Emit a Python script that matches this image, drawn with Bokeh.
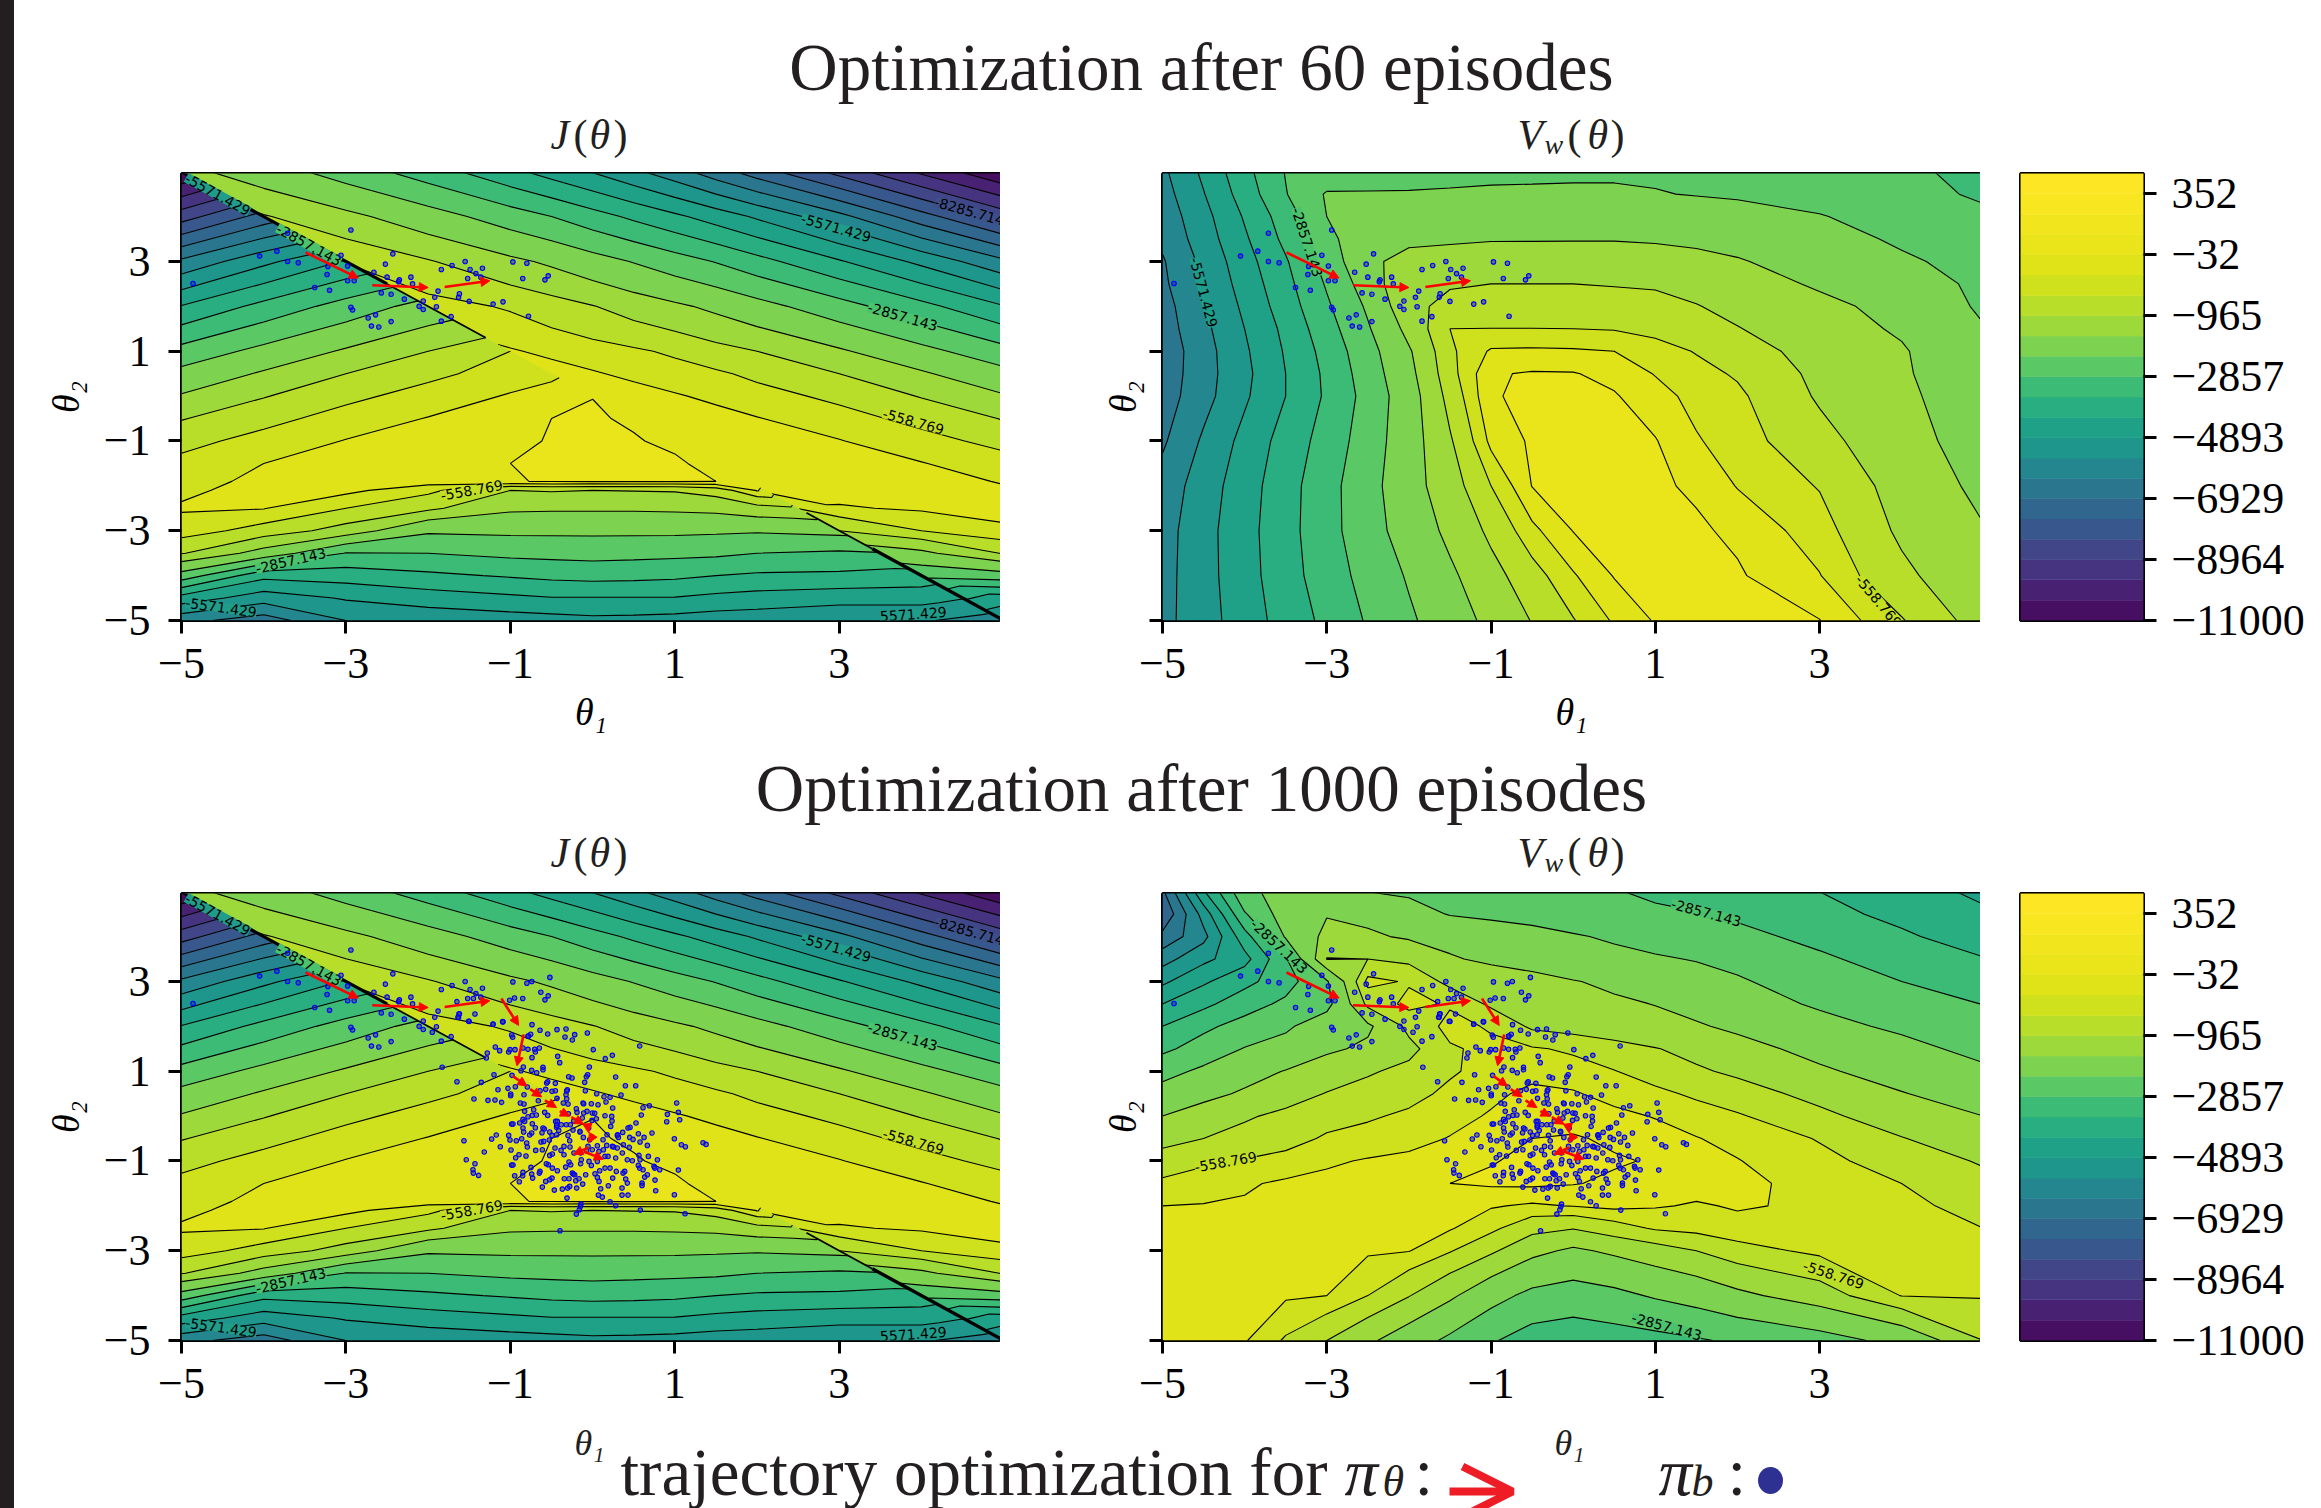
import numpy as np
from bokeh.embed import file_html
from bokeh.resources import INLINE
from bokeh.plotting import figure
from bokeh.layouts import column, row
from bokeh.models import (Range1d, Arrow, NormalHead, OpenHead, ColumnDataSource,
                          FixedTicker, GlobalInlineStyleSheet)
from bokeh.core.properties import value

# ---------- contour levels and colours ----------
LEVELS = [-11000 + k * 678.5714 for k in range(15)] + [-965, -558.769, -280, -32, 120, 240, 352, 500]
BAND_COLORS = ["#460f62", "#482173", "#463480", "#404688", "#38578c", "#31668e", "#2a768e", "#24868e",
               "#1f968b", "#1fa188", "#28ae80", "#3bbb75", "#5ac864", "#7dd250", "#9dd93b", "#b8de29",
               "#cfe11c", "#dfe318", "#eae51a", "#f1e51d", "#f8e621", "#fde725"]
CB_TICKS = {0: "\u221211000", 3: "\u22128964", 6: "\u22126929", 9: "\u22124893", 12: "\u22122857",
            15: "\u2212965", 18: "\u221232", 21: "352"}

# ---------- fields, in units of contour-line count ----------
J_X = [-5, -4, -3, -2, -1, -.5, 0, .5, 1, 1.5, 2, 3, 4, 5]
J_Y = [5, 4, 3, 2, 1, .5, 0, -.5, -1, -1.5, -1.9, -2.1, -2.5, -3, -3.5, -4, -4.5, -5]
J_TABLE = [
 [14.35,13.5,12.56,11.5,10.25,9.6,8.95,8.2,7.4,6.45,5.5,3.65,1.8,0.05],
 [3.55,15.1,14.3,13.45,12.5,12,11.4,10.8,10.2,9.55,8.85,7.3,5.4,3.55],
 [7.2,8.75,15.95,15.1,14.25,13.85,13.4,12.95,12.45,11.95,11.35,10.1,8.75,7.2],
 [10.05,11.3,12.4,16.5,15.9,15.5,15.05,14.6,14.2,13.8,13.35,12.4,11.3,10.05],
 [12.35,13.3,14.15,15,17.1,16.8,16.5,16.2,15.85,15.4,15,14.15,13.3,12.35],
 [13.3,14.15,15,15.8,16.5,17.4,17.1,16.8,16.5,16.2,15.8,15,14.15,13.3],
 [14.1,14.95,15.8,16.45,17.1,17.4,17.98,17.4,17.1,16.8,16.45,15.8,14.95,14.1],
 [14.95,15.75,16.45,17.05,17.6,18,18.2,17.85,17.6,17.35,17.05,16.45,15.75,14.95],
 [15.75,16.4,17.05,17.45,17.7,18.15,18.35,18.15,17.75,17.5,17.4,17.05,16.4,15.75],
 [16.3,17,17.3,17.5,18,18.4,18.5,18.5,18.3,17.6,17.6,17.4,17.05,16.45],
 [16.65,17.25,17.4,17.5,17.95,18.1,18.15,18.15,18.15,18,17.7,17.5,17.3,16.95],
 [16.85,17.3,17.3,16.3,15,15.1,15,15.05,15.1,15.5,17.1,17.4,17.35,17.1],
 [17.1,17.05,16,15.25,14.2,14.15,14.15,14.15,14.2,14.3,14.7,16.9,17.15,17.2],
 [16.6,15.65,14.65,13.15,13.2,13.2,13.2,13.2,13.2,13.15,13.1,15,16,16.9],
 [15.1,13.65,11.95,12,12.25,12.3,12.35,12.3,12.25,12.2,12,11.85,13.8,15.1],
 [12.6,10.3,10.45,10.8,11.1,11.25,11.35,11.3,11.2,11,10.85,10.8,12.3,12.6],
 [9.6,8.45,9.1,9.5,9.8,9.95,9.95,9.95,9.95,9.75,9.6,9.4,9.4,9.5],
 [7.3,6.5,8,8.3,8.5,8.6,8.75,8.7,8.6,8.45,8.4,8.1,8.1,8],
]
J_DIAG_UPPER = [14.35,15.1,15.95,16.5,17.1,17.4,17.98,17.85,17.75,17.6,17.6,15,12.3,8]
J_DIAG_LOWER = [0.05,5.4,10.1,13.4,16,16.8,17.98,17.85,17.75,17.6,17.3,13.3,10.6,7.5]
J_CLIFF = [(-5,5,-2.5,2.5,3.2), (-2.5,2.5,-1.3,1.3,1.7), (2.6,-2.6,3.4,-3.4,1.8), (3.4,-3.4,5,-5,3.4)]

V_X = [-5,-4.5,-4,-3.5,-3,-2.5,-2,-1.5,-1,-.5,0,.5,1,1.5,2,3,4,5]
V60_Y = [5,4.5,4,3.5,3,2.5,2,1.5,1,.5,0,-1,-2,-3,-4,-5]
V60_TABLE = [
 [7.8,9.2,10.7,12.05,12.3,12.4,12.5,12.6,12.7,12.75,12.8,12.85,12.85,12.8,12.7,12.5,12.2,11.7],
 [7.6,8.95,10.45,11.95,13.1,13.1,13.1,13.15,13.2,13.2,13.2,13.15,13.05,12.95,12.85,12.65,12.35,11.85],
 [7.4,8.67,10.1,11.5,13,13.25,13.3,13.4,13.45,13.5,13.55,13.6,13.6,13.55,13.45,13.05,12.6,12.2],
 [7.2,8.5,9.85,11.25,12.7,13.75,13.85,13.9,13.95,13.95,13.95,13.95,13.9,13.8,13.65,13.4,12.85,12.4],
 [6.9,8.25,9.6,10.9,12.4,13.85,14.3,14.4,14.5,14.55,14.6,14.6,14.5,14.35,14.1,13.55,13.15,12.65],
 [6.8,8.1,9.4,10.7,12.1,13.5,14.95,14.95,15,15,15,14.95,14.9,14.7,14.45,13.9,13.45,12.8],
 [6.6,7.9,9.2,10.5,11.85,13.15,14.85,15.2,15.35,15.45,15.5,15.45,15.35,15.05,14.75,14.25,13.75,12.85],
 [6.5,7.75,9,10.25,11.6,12.9,14.35,16,16.02,16.02,16,15.95,15.75,15.4,15.05,14.45,13.9,13.05],
 [6.35,7.6,8.85,10.1,11.35,12.65,13.9,15.85,17.15,17.2,17.15,17,16.5,15.95,15.45,14.7,14.1,13.25],
 [6.4,7.6,8.75,10,11.2,12.5,13.75,15.7,17.9,18.15,18.1,17.7,16.95,16.4,15.9,14.8,14.15,13.3],
 [6.5,7.65,8.85,10,11.15,12.35,13.6,15.4,17.95,18.2,18.25,18.15,17.4,16.7,16.25,14.9,14.25,13.4],
 [6.85,8.15,9.3,10.4,11.4,12.5,13.6,14.9,17.3,18.25,18.4,18.3,18.1,17.1,16.55,15.35,14.4,13.6],
 [7.4,8.5,9.55,10.6,11.65,12.65,13.65,14.6,16,18.05,18.3,18.35,18.25,17.85,16.95,15.95,14.65,13.8],
 [7.6,8.65,9.65,10.65,11.65,12.6,13.45,14.25,15.25,16.75,18.05,18.25,18.3,18.25,17.8,16.5,14.85,14.05],
 [7.65,8.65,9.6,10.6,11.5,12.35,13.1,13.85,14.7,15.65,16.9,18.1,18.3,18.35,18.2,17.05,15.25,14.3],
 [7.7,8.6,9.5,10.4,11.25,12.1,12.85,13.55,14.3,15.05,15.95,17.15,18.15,18.25,18.3,18.05,16.1,14.6],
]
V1000_Y = [5,4.5,4,3.5,3,2.5,2,1.5,1,.5,0,-.5,-1,-1.5,-2,-2.5,-3,-4,-5]
V1000_TABLE = [
 [5.8,9.9,12.8,13.3,13.25,13,12.85,12.7,12.55,12.4,12.25,12.05,11.85,11.65,11.4,11,10.4,9.8],
 [5.1,8.4,11.9,13.5,13.95,13.8,13.4,12.95,12.8,12.6,12.4,12.3,12.15,12.05,11.85,11.3,10.75,10.15],
 [6.3,7.7,10.6,13.1,14.3,14.15,13.9,13.75,13.55,13.4,13.1,12.85,12.65,12.45,12.25,11.75,11.15,10.5],
 [7.6,8.75,9.65,11.9,15.05,15.0,14.8,14.1,13.85,13.65,13.45,13.3,13.1,12.95,12.75,12.15,11.6,11.05],
 [8.8,9.85,10.7,11.6,12.9,16.4,15.9,14.75,14.55,14.35,14.05,13.85,13.6,13.35,13.1,12.55,12,11.6],
 [10,10.75,11.6,12.2,12.7,15.3,16.4,15.9,14.85,14.65,14.35,14.15,13.98,13.75,13.35,12.9,12.4,11.98],
 [11,11.8,12.35,12.85,13.55,13.85,15.3,16.4,15.9,14.85,14.65,14.45,14.3,14.1,13.85,13.25,12.85,12.4],
 [11.8,12.4,13.05,13.35,13.85,14.2,14.75,15.9,16.3,16.15,15.85,15.45,15.05,14.75,14.35,13.75,13.25,12.75],
 [12.65,13.2,13.65,14.05,14.55,14.9,15.3,15.9,16.4,16.7,16.55,16.05,15.6,15.15,14.85,14.15,13.65,13.15],
 [13.4,13.75,14.15,14.65,15.05,15.4,15.75,16.25,16.8,17.25,17.1,16.7,16.3,15.85,15.45,14.75,14.05,13.6],
 [14,14.5,14.9,15.25,15.6,15.9,16.2,16.7,17.1,17.4,17.5,17.25,16.95,16.55,16.15,15.25,14.55,14],
 [14.65,15,15.35,15.6,16.2,16.4,16.7,17.05,17.3,18,18.2,17.8,17.4,17.05,16.7,15.95,15.05,14.45],
 [15.6,15.85,16.1,16.5,16.85,17.1,17.25,17.5,17.95,18.3,18.4,18.2,17.9,17.45,17.05,16.3,15.65,14.9],
 [16.2,16.6,16.9,17.15,17.3,17.4,17.5,18,18.25,18.35,18.1,17.8,17.65,17.45,17.2,16.75,16,15.35],
 [17,17.05,17.1,17.2,17.3,17.35,17.4,17.7,17.1,16.85,17.05,17.3,17.1,16.9,17.1,16.85,16.3,15.7],
 [17.2,17.2,17.2,17.25,17.3,17.3,17.2,17.1,16.3,15.35,15.05,15.6,16.15,16.4,16.7,16.75,16.5,16],
 [17.3,17.3,17.3,17.3,17.25,17.15,17.05,16.1,15.2,14.3,13.85,14.2,14.6,15,15.65,16.3,16.4,16.25],
 [17.15,17.2,17.2,17.15,17,16,15.05,14.2,13.35,12.75,12.55,12.75,13.1,13.4,13.8,14.55,16.05,16.1],
 [17.5,17.4,17.1,15.9,15,14.2,13.5,12.8,12.1,11.55,11.4,11.55,11.7,11.9,12.15,12.6,13.3,15],
]

# ---------- behaviour-policy samples ----------
PB60 = [(-4.86,2.51),(-4.05,3.12),(-3.84,3.23),(-3.71,3.63),(-3.71,3.0),(-3.58,2.97),(-3.38,2.42),(-3.20,2.36),
 (-3.23,2.71),(-3.22,2.89),(-3.06,3.14),(-2.98,2.90),(-2.98,2.57),(-2.90,2.57),(-2.94,3.70),(-2.94,1.98),
 (-2.92,1.92),(-2.73,1.74),(-2.64,1.81),(-2.69,1.56),(-2.60,1.54),(-2.45,1.66),(-2.57,2.30),(-2.45,2.27),
 (-2.66,2.76),(-2.50,2.65),(-2.52,2.94),(-2.43,3.17),(-2.36,2.55),(-2.35,2.59),(-2.21,2.65),(-2.19,2.50),
 (-2.29,2.16),(-2.11,2.0),(-2.06,1.93),(-2.06,2.12),(-1.92,2.20),(-1.90,1.99),(-1.88,2.34),(-1.84,1.67),
 (-1.72,1.77),(-1.63,2.20),(-1.62,2.28),(-1.50,2.11),(-1.84,2.82),(-1.71,2.91),(-1.55,3.0),(-1.49,2.82),
 (-1.42,2.73),(-1.34,2.85),(-1.52,2.62),(-1.36,2.65),(-1.21,2.05),(-1.09,2.10),(-0.97,2.99),(-0.80,2.96),
 (-0.85,2.62),(-0.58,2.59),(-0.54,2.68),(-0.78,1.78)]
PB1000_EXTRA = [(-.74,3.0),(-.52,3.09),(-.63,2.76),(-.95,2.63),(-1.01,2.58),(-1.83,1.09),(-1.95,1.87),
 (-1.65,2.55),(-1.45,2.62)]
# digitised on a 3x crop of the reference: horizontal read / 246.6 - 1.727, 2.558 - vertical read / 134.55
PB1000_READ = [(25,38),(22,48),(73,38),(54,60),(127,69),(156,61),(244,70),(268,87),(319,85),(346,83),(291,98),(183,101),(186,108),(240,99),(232,104),(343,107),(372,100),(365,116),(410,95),(428,145),(567,134),(485,162),(464,172),(321,165),(327,184),(244,169),(134,137),(147,148),(178,145),(193,145),(174,152),(217,140),(232,144),(252,144),(254,152),(266,140),(110,155),(107,170),(416,197),(411,220),(407,226),(277,198),(277,205),(243,207),(258,214),(218,197),(211,208),(354,226),(364,230),(402,243),(495,227),(130,220),(184,222),(19,241),(92,243),
 (524,253),(555,253),(511,281),(291,241),(288,245),(314,246),(194,256),(172,261),(142,265),(230,257),(285,264),(304,270),(314,268),(350,265),(348,269),(404,268),(268,268),(180,278),(180,283),(220,280),(346,280),(438,277),(460,286),(478,288),(466,302),(319,291),(348,292),(263,298),(70,293),(112,297),(133,296),(153,303),(209,305),(220,308),(338,305),(352,308),(397,305),(399,307),(422,307),(442,310),(486,320),(577,319),(596,313),(678,305),(683,333),(650,339),(687,355),(648,361),(572,341),(556,365),(282,333),(291,342),(222,330),(249,325),(232,346),(245,342),(257,341),(217,354),(222,360),(207,365),(183,368),(187,368),(315,360),(320,360),(245,367),(353,337),(377,322),(379,333),(409,330),(399,335),(425,335),(432,336),(463,343),(483,345),(484,359),(437,352),(424,357),(395,350),(217,380),(219,392),(254,379),(277,380),(281,383),(318,372),(318,378),(332,370),(347,370),(359,370),(369,359),(367,386),(388,392),(414,380),(480,375),(538,378),(532,380),(516,393),(501,400),(503,408),(563,397),(604,395),(671,412),(692,430),(704,436),(757,424),(766,429),(40,418),(123,413),(137,401),(174,402),(178,416),(197,418),(213,412),(237,401),(243,395),(274,394),(297,392),(324,387),(318,400),(304,402),(296,416),(279,420),(271,422),(228,425),(230,437),(255,447),(149,436),(181,446),(101,452),(47,475),(73,487),(67,505),(68,515),(84,522),(183,491),(187,491),(205,460),(195,469),(226,464),(275,445),(297,462),(313,440),(331,447),(340,435),(358,437),(357,418),(352,402),(388,390),(398,408),(417,415),(412,435),(440,433),(457,415),(469,400),(489,437),(500,402),(518,430),(537,408),(547,414),(536,438),(568,422),(580,408),(590,432),(468,432),(485,435),(500,440),(458,445),(445,450),(425,445),(408,448),(390,455),(370,455),(340,460),(305,458),(293,490),(287,487),(305,500),(320,508),(345,497),(355,482),(360,490),(392,475),(390,487),(415,480),(422,492),(440,480),(463,465),(472,465),(495,470),(515,455),(530,475),(545,478),(565,462),(568,475),(593,465),(620,475),(563,492),(567,500),(577,505),(610,495),(612,500),(627,505),(683,506),(522,510),(517,515),(497,510),(478,500),(463,500),(447,508),(433,517),(440,528),(445,540),(405,520),(365,515),(368,518),(372,520),(355,532),(341,532),(385,532),(375,538),(396,548),(473,553),(486,530),(525,533),(530,545),(514,560),(574,545),(574,552),(582,527),(590,520),(613,536),(615,568),(671,580),(532,581),(514,581),(450,562),(443,581),(455,587),(378,560),(357,555),(351,560),(335,563),(311,566),(275,557),(285,540),(297,535),(304,530),(241,498),(268,510),(266,515),(243,518),(246,530),(217,513),(216,523),(192,523),(206,541),(349,590),(391,608),(389,615),(386,625),(377,638),(478,601),(495,613),(569,626),(703,637),(328,688)]

# ---------- trajectory arrows (start x, start y, end x, end y) ----------
TRAJ60 = [(-3.49,3.2,-2.85,2.63),(-2.68,2.47,-2.0,2.42),(-1.8,2.43,-1.25,2.57)]
TRAJ1000 = TRAJ60 + [(-1.11,2.62,-.9,2.02),(-.84,1.82,-.92,1.12),(-.97,.89,-.8,.67),(-.76,.6,-.62,.43),
 (-.58,.35,-.44,.19),(-.4,.11,-.28,0),(-.26,-.02,-.11,-.18),(-.06,-.22,-.05,-.37),(.01,-.41,-.05,-.59),
 (-.05,-.7,-.23,-.85),(-.11,-.79,.13,-.96)]

# ---------- contour labels (x, y, text, screen angle, background) ----------
G_LOW, G_MID, G_TEAL, G_DARK = "#c4e022", "#4bc26c", "#1f9c8a", "#3d4e8a"
J_LABELS = [(2.96,3.75,"-5571.429",-15.7,G_TEAL),(3.77,1.77,"-2857.143",-15.7,G_MID),(3.9,-.57,"-558.769",-15.7,G_LOW),
 (4.58,4.12,"-8285.714",-15.7,G_DARK),(-1.47,-2.1,"-558.769",10,G_LOW),(-3.67,-3.67,"-2857.143",13,G_MID),
 (-4.52,-4.71,"-5571.429",-8,G_TEAL),(3.9,-4.86,"5571.429",4,G_TEAL),(-3.45,3.37,"-2857.143",-28.6,G_MID),
 (-4.56,4.49,"-5571.429",-28.6,G_TEAL)]
V60_LABELS = [(-3.24,3.43,"-2857.143",-72,G_MID),(-4.5,2.31,"-5571.429",-75,G_TEAL),(3.72,-4.57,"-558.769",-50,G_LOW)]
V1000_LABELS = [(-3.58,3.78,"-2857.143",-43,G_MID),(-4.23,-1.02,"-558.769",10,G_LOW),(1.62,4.53,"-2857.143",-15,G_MID),
 (3.17,-3.54,"-558.769",-18,G_LOW),(1.14,-4.69,"-2857.143",-15,G_MID)]

# ---------- texts ----------
SUPTITLE_60 = "Optimization after 60 episodes"
SUPTITLE_1000 = "Optimization after 1000 episodes"
LEGEND_TEXT = "trajectory optimization for"
TICKS = [-5, -3, -1, 1, 3]
TICK_TEXT = {-5: "\u22125", -3: "\u22123", -1: "\u22121", 1: "1", 3: "3"}
NO_TEXT = {t: "" for t in TICKS}
SERIF = "Liberation Serif"
XMAX = 4.96
INK = "#231f20"
SUBTITLE_FONT = "42px"
TOTAL_W = 2293


def to_values(table):
    return np.interp(np.asarray(table, float), np.arange(23), LEVELS)


def panel(left_border, frame_w, frame_h, top, bottom, y_labels, x_title=True):
    p = figure(width=left_border + frame_w, height=top + frame_h + bottom,
               frame_width=frame_w, frame_height=frame_h,
               min_border_left=left_border, min_border_right=0, min_border_top=top, min_border_bottom=bottom,
               x_range=Range1d(-5, XMAX), y_range=Range1d(-5, XMAX), toolbar_location=None, output_backend="svg")
    p.grid.visible = False
    p.outline_line_color = "black"
    p.outline_line_width = 3
    p.background_fill_color = BAND_COLORS[17]
    if x_title:
        p.xaxis.axis_label = "\u03b8\u2081"
    p.yaxis.axis_label = "\u03b8\u2082"
    for ax in (p.xaxis[0], p.yaxis[0]):
        ax.ticker = FixedTicker(ticks=TICKS)
        ax.major_label_overrides = TICK_TEXT
        ax.major_tick_in = 0
        ax.major_tick_out = 13
        ax.major_tick_line_width = 3
        ax.minor_tick_line_color = None
        ax.axis_line_width = 0
        ax.axis_line_color = None
        ax.major_label_text_font = SERIF
        ax.major_label_text_font_size = "44px"
        ax.major_label_text_color = "black"
        ax.axis_label_text_font = SERIF
        ax.axis_label_text_font_size = "38px"
        ax.axis_label_text_font_style = "italic"
        ax.axis_label_text_color = "black"
    p.xaxis.major_label_standoff = 15
    p.xaxis.axis_label_standoff = 10
    p.yaxis.major_label_standoff = 18
    p.yaxis.axis_label_standoff = 14
    if not y_labels:
        p.yaxis[0].major_label_overrides = NO_TEXT
        p.yaxis.axis_label_standoff = 6
    return p


def draw_field_j(p):
    xs, ys = np.array(J_X, float), np.array(J_Y[::-1], float)
    table = to_values(J_TABLE)[::-1]
    X, Y = np.meshgrid(xs, ys)
    diag = -X
    up = to_values(J_DIAG_UPPER)[None, :] * np.ones_like(X)
    lo = to_values(J_DIAG_LOWER)[None, :] * np.ones_like(X)
    z_up = np.where(Y > diag, table, up)
    z_lo = np.where(Y < diag, table, lo)
    p.contour(X, np.maximum(Y, diag), z_up, LEVELS, fill_color=BAND_COLORS, line_color="black", line_width=1.1)
    p.contour(X, np.minimum(Y, diag), z_lo, LEVELS, fill_color=BAND_COLORS, line_color="black", line_width=1.1)
    for x0, y0, x1, y1, w in J_CLIFF:
        p.line([x0, x1], [y0, y1], line_color="black", line_width=w)


def draw_field_v(p, xs, ys, table):
    z = to_values(table)[::-1]
    p.contour(np.array(xs, float), np.array(ys[::-1], float), z, LEVELS, fill_color=BAND_COLORS,
              line_color="black", line_width=1.1)


def draw_labels(p, labels):
    src = ColumnDataSource(dict(x=[l[0] for l in labels], y=[l[1] for l in labels], t=[l[2] for l in labels],
                                a=[l[3] for l in labels], bg=[l[4] for l in labels]))
    p.text(x="x", y="y", text="t", angle="a", angle_units="deg", source=src, text_font=value("DejaVu Sans"),
           text_font_size="14px", text_align="center", text_baseline="middle", text_color="black",
           background_fill_color="bg")


def draw_samples(p, pts):
    p.scatter([c[0] for c in pts], [c[1] for c in pts], size=4.5, marker="circle", line_color="#0000ff",
              line_width=1.1, fill_color="#20209a", fill_alpha=0.5)


def draw_traj(p, segs):
    src = ColumnDataSource(dict(x0=[s[0] for s in segs], y0=[s[1] for s in segs], x1=[s[2] for s in segs], y1=[s[3] for s in segs]))
    head = NormalHead(size=9, fill_color="#ff0000", line_color="#ff0000", line_width=1)
    p.add_layout(Arrow(end=head, x_start="x0", y_start="y0", x_end="x1", y_end="y1", source=src,
                       line_color="#ff0000", line_width=2.6))


def strip(h, items):
    p = figure(width=TOTAL_W, height=h, frame_width=TOTAL_W, frame_height=h, min_border=0, x_range=Range1d(0, TOTAL_W),
               y_range=Range1d(h, 0), toolbar_location=None, output_backend="svg", x_axis_location=None, y_axis_location=None)
    p.grid.visible = False
    p.outline_line_color = None
    for x, y, txt, size, align, style in items:
        p.text([x], [y], text=[txt], text_font=value(SERIF), text_font_size=size, text_align=align,
               text_baseline="middle", text_font_style=style, text_color=INK)
    return p


def colorbar(top, bottom):
    p = figure(width=40 + 123 + 150, height=top + 447 + bottom, frame_width=123, frame_height=447,
               min_border_left=40, min_border_right=150, min_border_top=top, min_border_bottom=bottom,
               x_range=Range1d(0, 1), y_range=Range1d(0, 22), toolbar_location=None, output_backend="svg",
               x_axis_location=None, y_axis_location="right")
    p.grid.visible = False
    p.outline_line_color = "black"
    p.outline_line_width = 3
    p.quad(left=0, right=1, bottom=list(range(22)), top=list(range(1, 23)), fill_color=BAND_COLORS,
           line_color=BAND_COLORS, line_width=0.5)
    ax = p.yaxis[0]
    ax.ticker = FixedTicker(ticks=list(CB_TICKS))
    ax.major_label_overrides = CB_TICKS
    ax.major_tick_in = 0
    ax.major_tick_out = 13
    ax.major_tick_line_width = 3
    ax.minor_tick_line_color = None
    ax.axis_line_color = None
    ax.major_label_text_font = SERIF
    ax.major_label_text_font_size = "44px"
    ax.major_label_text_color = "black"
    ax.major_label_standoff = 15
    return p


def build_row(top, bottom, v_xs, v_ys, v_table, pts, traj, v_labels, x_title):
    a = panel(181, 819, 447, top, bottom, True, x_title)
    draw_field_j(a)
    draw_labels(a, J_LABELS)
    draw_samples(a, pts)
    draw_traj(a, traj)
    b = panel(162, 818, 447, top, bottom, False, x_title)
    draw_field_v(b, v_xs, v_ys, v_table)
    draw_labels(b, v_labels)
    draw_samples(b, pts)
    draw_traj(b, traj)
    return row(a, b, colorbar(top, bottom), spacing=0)


def subtitles(y):
    return [(550, y, "J", SUBTITLE_FONT, "left", "italic"), (573, y, "(", SUBTITLE_FONT, "left", "normal"),
            (589, y, "\u03b8", SUBTITLE_FONT, "left", "italic"), (613, y, ")", SUBTITLE_FONT, "left", "normal"),
            (1517, y, "V", SUBTITLE_FONT, "left", "italic"), (1544, y + 10, "w", "28px", "left", "italic"),
            (1567, y, "(", SUBTITLE_FONT, "left", "normal"), (1587, y, "\u03b8", SUBTITLE_FONT, "left", "italic"),
            (1610, y, ")", SUBTITLE_FONT, "left", "normal")]


pb_read = [(c[0] / 246.6 - 1.727, 2.558 - c[1] / 134.55) for c in PB1000_READ]
PB1000 = PB60 + PB1000_EXTRA + pb_read

strip1 = strip(171, [(1201, 66, SUPTITLE_60, "67px", "center", "normal")] + subtitles(134))
row1 = build_row(2, 125, V_X, V60_Y, V60_TABLE, PB60, TRAJ60, V60_LABELS, True)
strip2 = strip(146, [(1201, 42, SUPTITLE_1000, "67px", "center", "normal")] + subtitles(107))
row2 = build_row(2, 80, V_X, V1000_Y, V1000_TABLE, PB1000, TRAJ1000, V1000_LABELS, False)

Y_LEGEND = 51
legend = strip(88, [(589, 22, "\u03b8\u2081", "36px", "center", "italic"),
                    (1569, 22, "\u03b8\u2081", "36px", "center", "italic"),
                    (620, Y_LEGEND, LEGEND_TEXT, "67px", "left", "normal"),
                    (1344, Y_LEGEND, "\u03c0", "67px", "left", "italic"),
                    (1382, Y_LEGEND + 10, "\u03b8", "44px", "left", "italic"),
                    (1414, Y_LEGEND, ":", "67px", "left", "normal"),
                    (1658, Y_LEGEND, "\u03c0", "67px", "left", "italic"),
                    (1691, Y_LEGEND + 10, "b", "44px", "left", "italic"),
                    (1727, Y_LEGEND, ":", "67px", "left", "normal")])
legend.add_layout(Arrow(end=OpenHead(size=50, line_color="#ee1c25", line_width=8), x_start=1449, y_start=71,
                        x_end=1512, y_end=71, line_color="#ee1c25", line_width=8))
legend.ellipse([1770], [60], width=[25], height=[27], fill_color="#2e3192", line_color=None)

edge_css = GlobalInlineStyleSheet(css="body::before{content:'';position:fixed;left:0;top:0;width:14px;height:100vh;"
                                      "background:#231f20;z-index:9999}")
page = column(strip1, row1, strip2, row2, legend, spacing=0, stylesheets=[edge_css])
open("out.html", "w").write(file_html(page, INLINE))
